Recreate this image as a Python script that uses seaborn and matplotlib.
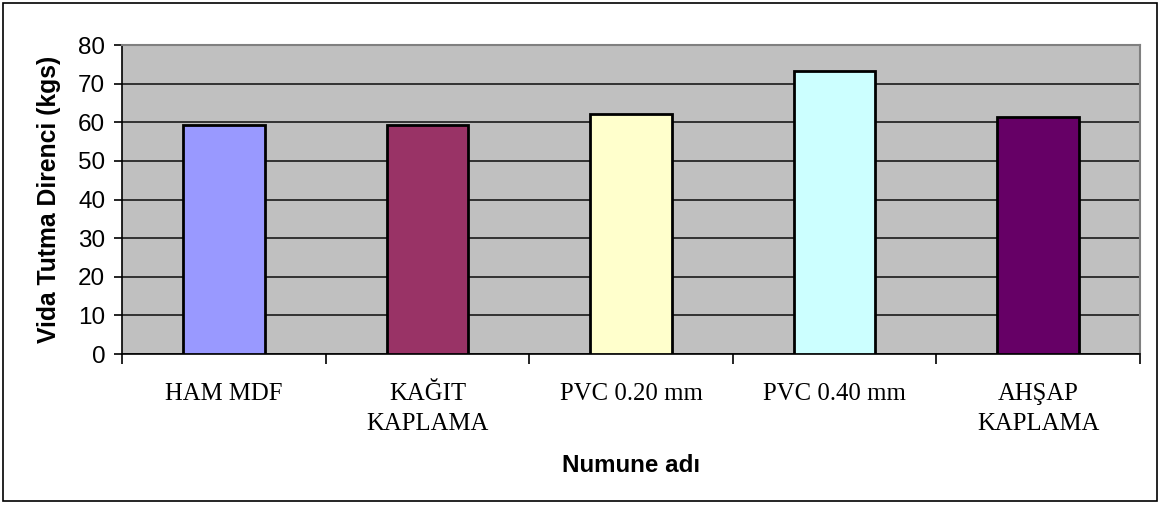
import matplotlib
matplotlib.use("Agg")
import matplotlib.pyplot as plt
from matplotlib.patches import Rectangle
from matplotlib.ticker import FixedLocator, MultipleLocator
import seaborn as sns
import pandas as pd

# Screw holding strength per sample type
samples = ["HAM MDF", "KAĞIT\nKAPLAMA", "PVC 0.20 mm", "PVC 0.40 mm", "AHŞAP\nKAPLAMA"]
strength = [59.4, 59.4, 62.2, 73.2, 61.4]
bar_colors = ["#9999FF", "#993366", "#FFFFCC", "#CCFFFF", "#660066"]

df = pd.DataFrame({"sample": samples, "strength": strength})

sns.set_style("white")
plt.rcParams.update({
    "text.color": "black",
    "axes.labelcolor": "black",
    "xtick.color": "black",
    "ytick.color": "black",
})
fig = plt.figure(figsize=(11.61, 5.11), dpi=100)
ax = fig.add_axes([0.1051, 0.3072, 0.8768, 0.6047])

sns.barplot(data=df, x="sample", y="strength", hue="sample", palette=bar_colors,
            saturation=1, width=0.4, edgecolor="black", linewidth=2, legend=False,
            ax=ax, zorder=3)

ax.set_facecolor("#C0C0C0")
ax.set_xlim(-0.5, len(samples) - 0.5)
ax.set_ylim(0, 80)
ax.yaxis.set_major_locator(MultipleLocator(10))
ax.grid(axis="y", color="#1a1a1a", linewidth=1.2, zorder=1)
ax.grid(axis="x", visible=False)
ax.set_axisbelow(True)

for side in ["top", "right"]:
    ax.spines[side].set_color("#808080")
    ax.spines[side].set_linewidth(1.5)
for side in ["left", "bottom"]:
    ax.spines[side].set_color("black")
    ax.spines[side].set_linewidth(1.2)

# y ticks
ax.tick_params(axis="y", which="major", left=True, length=6, width=1.2,
               color="black", labelcolor="black", pad=6, labelsize=17.5)
for lbl in ax.get_yticklabels():
    lbl.set_fontfamily("Liberation Sans")

# x: category labels without ticks, tick marks at category boundaries
ax.xaxis.set_minor_locator(FixedLocator([i - 0.5 for i in range(len(samples) + 1)]))
ax.tick_params(axis="x", which="major", bottom=False, length=0, pad=21,
               labelcolor="black")
ax.tick_params(axis="x", which="minor", bottom=True, length=7, width=1.2, color="black")
ax.set_xticks(range(len(samples)))
ax.set_xticklabels(samples, fontfamily="Liberation Serif", fontsize=17.8,
                   linespacing=1.45, va="top", color="black")

ax.set_xlabel("Numune adı", fontfamily="Liberation Sans", fontweight="bold",
              fontsize=17.4, color="black")
ax.set_ylabel("Vida Tutma Direnci (kgs)", fontfamily="Liberation Sans",
              fontweight="bold", fontsize=17.8, color="black")
ax.xaxis.set_label_coords(0.5, -0.362)
ax.yaxis.set_label_coords(-0.0718, 0.5)
ax.xaxis.label.set_va("center")
ax.yaxis.label.set_va("center")

# outer chart frame
fig.patches.append(Rectangle((0.0026, 0.0196), 0.994, 0.9745, transform=fig.transFigure,
                             fill=False, edgecolor="black", linewidth=1.2))

fig.savefig("out.png", dpi=100)
